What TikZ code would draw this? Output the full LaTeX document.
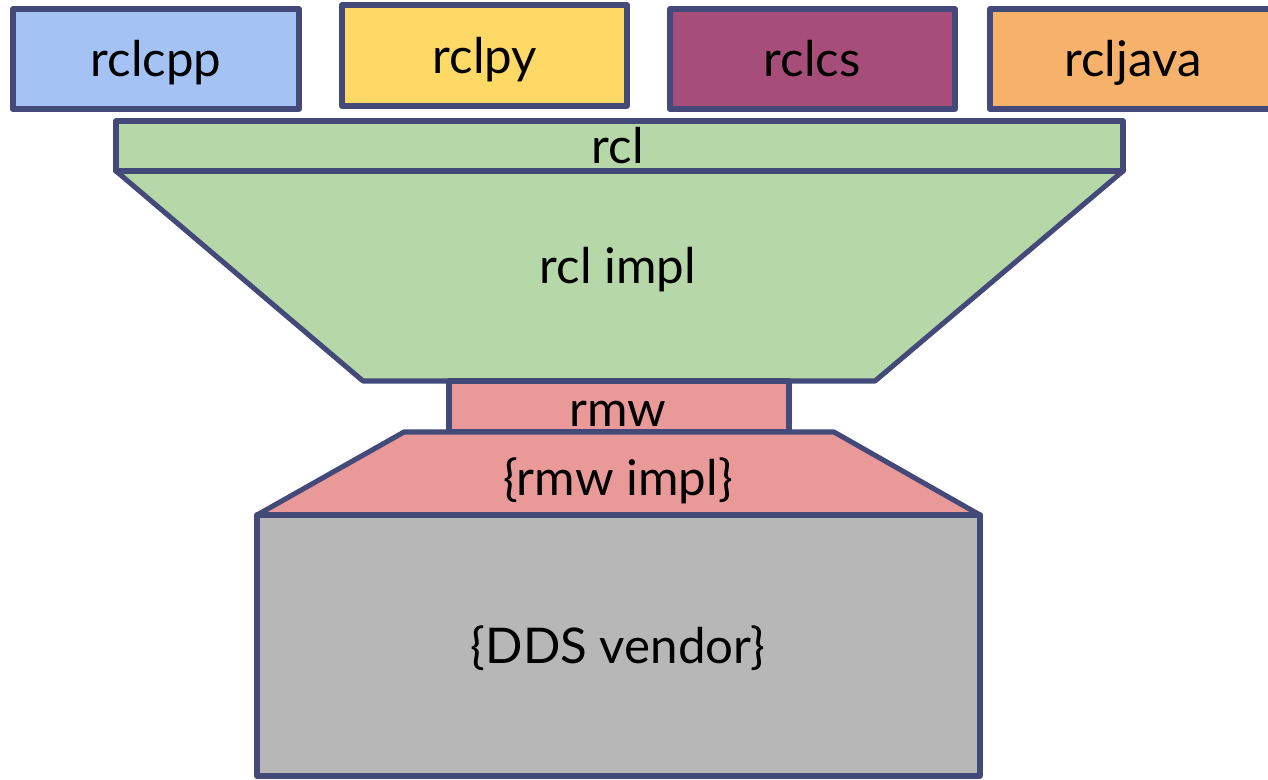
\documentclass[tikz,border=0pt]{standalone}
\usepackage{fontspec}
\setmainfont{Lato}
\usepackage{tikz}

\definecolor{edge}{HTML}{434A7A}
\definecolor{cppblue}{HTML}{A4C2F4}
\definecolor{pyyellow}{HTML}{FFD966}
\definecolor{csplum}{HTML}{A64D79}
\definecolor{javaorange}{HTML}{F6B26B}
\definecolor{rclgreen}{HTML}{B6D7A8}
\definecolor{rmwred}{HTML}{EA9999}
\definecolor{ddsgrey}{HTML}{B7B7B7}

\tikzset{
  layer/.style={draw=edge, line width=3.6pt, line join=round},
  label/.style={anchor=base, font=\fontsize{35}{38}\selectfont, inner sep=0pt}
}

\begin{document}
\begin{tikzpicture}[x=0.025cm, y=-0.025cm]

 \useasboundingbox (0,0) rectangle (1268,779);

 % client libraries
 \filldraw[layer, fill=cppblue] (13,9) rectangle (299,109);
 \node[label] (rclcpp) at (156,76) {rclcpp};
 \filldraw[layer, fill=pyyellow] (342,5) rectangle (627,106);
 \node[label] (rclpy) at (485,73) {rclpy};
 \filldraw[layer, fill=csplum] (670,9) rectangle (955,109);
 \node[label] (rclcs) at (812,76) {rclcs};
 \filldraw[layer, fill=javaorange] (990,9) rectangle (1290,109);
 \node[label] (rcljava) at (1133,76) {rcljava};

 % rcl and its implementation
 \filldraw[layer, fill=rclgreen] (116,171) -- (1123,171) -- (875,381) -- (363,381) -- cycle;
 \node[label] (rclimpl) at (618,283) {rcl impl};
 \filldraw[layer, fill=rclgreen] (116,121) rectangle (1123,171);
 \node[label] (rcl) at (618,163) {rcl};

 % middleware
 \filldraw[layer, fill=rmwred] (449,381) rectangle (789,432);
 \node[label] (rmw) at (618,426) {rmw};
 \filldraw[layer, fill=rmwred] (404,432) -- (834,432) -- (980,515) -- (257,515) -- cycle;
 \node[label] (rmwimpl) at (618,495) {\{rmw impl\}};

 % vendor
 \filldraw[layer, fill=ddsgrey] (257,515) rectangle (980,776);
 \node[label] (dds) at (618,663) {\{DDS vendor\}};

\end{tikzpicture}
\end{document}
